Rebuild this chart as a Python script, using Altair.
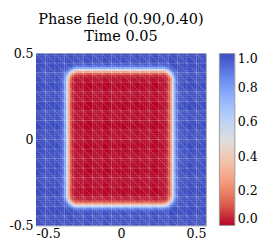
import numpy as np
import pandas as pd
import altair as alt

# ---- values ----
title_lines = ["Phase field (0.90,0.40)", "Time 0.05"]
axis_ticks = [-0.5, 0, 0.5]
legend_ticks = [0.0, 0.2, 0.4, 0.6, 0.8, 1.0]
# red (phase 0) block: centre, half-width, half-height, corner radius, interface width
block_cx = -0.005
block_cy = 0.01
block_half_x = 0.31
block_half_y = 0.394
block_corner = 0.06
interface_w = 0.02
mesh_cells = 18          # triangular mesh: cells per side
field_cells = 90         # raster resolution of the field
# reversed coolwarm stops (value 0 -> red, 1 -> blue)
cmap_stops = ["#b40426", "#de604d", "#f49a7b", "#f5c4ad", "#dddddd",
              "#b8d0f9", "#8db0fe", "#6282ea", "#3b4cc0"]

# ---- field table ----
edges = np.linspace(-0.5, 0.5, field_cells + 1)
centers = 0.5 * (edges[:-1] + edges[1:])
X, Y = np.meshgrid(centers, centers)
qx = np.abs(X - block_cx) - (block_half_x - block_corner)
qy = np.abs(Y - block_cy) - (block_half_y - block_corner)
dist = (np.sqrt(np.maximum(qx, 0) ** 2 + np.maximum(qy, 0) ** 2)
        + np.minimum(np.maximum(qx, qy), 0) - block_corner)
phi = 0.5 * (1 + np.tanh(dist / interface_w))
ix, iy = np.meshgrid(np.arange(field_cells), np.arange(field_cells))
ov = 0.0015  # tiny overlap so neighbouring cells leave no seams
field_df = pd.DataFrame({
    "x0": edges[ix.ravel()], "x1": np.minimum(edges[ix.ravel() + 1] + ov, 0.5),
    "y0": edges[iy.ravel()], "y1": np.minimum(edges[iy.ravel() + 1] + ov, 0.5),
    "phi": phi.ravel(),
})

# ---- mesh lines ----
rows = []
h = 1.0 / mesh_cells
for i in range(1, mesh_cells):
    p = -0.5 + i * h
    rows.append((p, -0.5, p, 0.5))
    rows.append((-0.5, p, 0.5, p))
for k in range(1, 2 * mesh_cells):
    c = -1 + k * h
    xa, xb = max(-0.5, c - 0.5), min(0.5, c + 0.5)
    rows.append((xa, c - xa, xb, c - xb))
mesh_df = pd.DataFrame(rows, columns=["mx0", "my0", "mx1", "my1"])

font = "DejaVu Serif"
sc = alt.Scale(domain=[-0.5, 0.5], nice=False, zero=False)
lab = ("datum.value == 0 ? '0' : (datum.value < 0 ? '-' + "
       "format(-datum.value, '.1f') : format(datum.value, '.1f'))")
cscale = alt.Scale(domain=[0, 1], range=cmap_stops, interpolate="rgb")
H = 178

field = alt.Chart(field_df).mark_rect().encode(
    x=alt.X("x0:Q", scale=sc, title=None,
            axis=alt.Axis(values=axis_ticks, labelExpr=lab)),
    x2="x1:Q",
    y=alt.Y("y0:Q", scale=sc, title=None,
            axis=alt.Axis(values=axis_ticks, labelExpr=lab)),
    y2="y1:Q",
    color=alt.Color("phi:Q", scale=cscale, legend=alt.Legend(
        type="gradient", title=None, values=legend_ticks, format=".1f",
        direction="vertical", orient="right", gradientLength=H,
        gradientThickness=16,
        gradientStrokeColor="#999999", gradientStrokeWidth=1,
        labelFont=font, labelFontSize=13, labelColor="black",
        labelBaseline="middle", labelOverlap=False, labelOffset=3,
        offset=14, padding=0)),
)

mesh = alt.Chart(mesh_df).mark_rule(color="white", opacity=0.2,
                                     strokeWidth=1).encode(
    x=alt.X("mx0:Q", scale=sc), y=alt.Y("my0:Q", scale=sc),
    x2="mx1:Q", y2="my1:Q",
)

chart = alt.layer(field, mesh).properties(
    width=176, height=H,
    padding={"left": 0, "top": 0, "right": 0, "bottom": 0},
    title=alt.TitleParams(text=title_lines, font=font, fontSize=15,
                          fontWeight="normal", color="black", frame="group",
                          anchor="middle", offset=4, lineHeight=18),
).configure_view(stroke="#999999", strokeWidth=1).configure_axis(
    labelFont=font, labelFontSize=13, labelColor="black", ticks=False,
    domain=False, grid=False, labelPadding=3,
)

chart.save("out.html", embed_options={"renderer": "svg", "actions": False})
